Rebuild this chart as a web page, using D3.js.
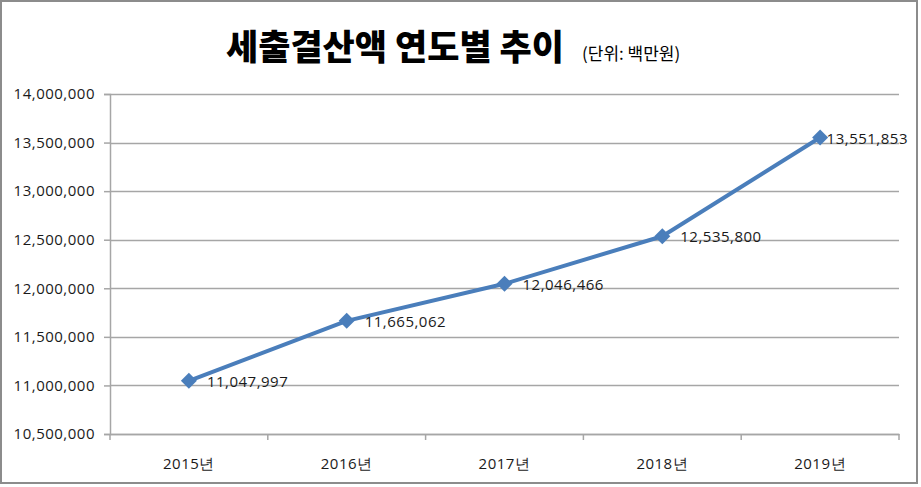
<!DOCTYPE html>
<html><head><meta charset="utf-8">
<script src="https://cdn.jsdelivr.net/npm/d3@7"></script>
<style>body{margin:0;background:#fff}svg{display:block}</style>
</head><body>
<script>
const years = ["2015년","2016년","2017년","2018년","2019년"];
const values = [11047997, 11665062, 12046466, 12535800, 13551853];
const yTicks = [10500000, 11000000, 11500000, 12000000, 12500000, 13000000, 13500000, 14000000];
const title = "세출결산액 연도별 추이";
const unit = "(단위: 백만원)";

const W = 921, H = 487;
const m = {left:110, right:22, top:94, bottom:53};
const svg = d3.select("body").append("svg").attr("width", W).attr("height", H);
svg.append("rect").attr("x",1).attr("y",1).attr("width",916).attr("height",482)
  .attr("fill","#fff").attr("stroke","#8c8c8c").attr("stroke-width",2);

const x = d3.scaleBand().domain(years).range([m.left, W - m.right]);
const y = d3.scaleLinear().domain([10500000, 14000000]).range([H - m.bottom, m.top]);
const fmt = d3.format(",");
const numFont = "'Open Sans', sans-serif";

// gridlines
svg.append("g").selectAll("line").data(yTicks).join("line")
  .attr("x1", m.left).attr("x2", W - m.right)
  .attr("y1", d => Math.round(y(d)) + 0.5).attr("y2", d => Math.round(y(d)) + 0.5)
  .attr("stroke", "#a6a6a6").attr("stroke-width", 1.5);

// y axis
const ya = svg.append("g").attr("transform", `translate(${m.left},0)`)
  .call(d3.axisLeft(y).tickValues(yTicks).tickFormat(fmt).tickSize(6).tickPadding(9));
ya.select(".domain").attr("stroke", "#a6a6a6").attr("stroke-width", 1.5);
ya.selectAll(".tick line").attr("stroke", "#a6a6a6").attr("stroke-width", 1.5);
ya.selectAll("text").attr("font-family", numFont).attr("font-size", 15)
  .attr("letter-spacing", 0.5).attr("fill", "#1a1a1a");

// x axis
const xa = svg.append("g").attr("transform", `translate(0,${H - m.bottom})`)
  .call(d3.axisBottom(x).tickSize(0).tickPadding(24));
xa.select(".domain").attr("stroke", "#a6a6a6").attr("stroke-width", 1.5);
xa.selectAll("text").attr("font-family", numFont).attr("font-size", 15)
  .attr("letter-spacing", 0.5).attr("fill", "#1a1a1a");
// category boundary ticks
const bounds = years.map(d => x(d)).concat([x(years[years.length-1]) + x.bandwidth()]);
svg.append("g").selectAll("line").data(bounds).join("line")
  .attr("x1", d => d).attr("x2", d => d)
  .attr("y1", H - m.bottom).attr("y2", H - m.bottom + 6)
  .attr("stroke", "#a6a6a6").attr("stroke-width", 1.5);

// line
const cx = d => x(d) + x.bandwidth() / 2;
const line = d3.line().x((d, i) => cx(years[i])).y(d => y(d));
svg.append("path").datum(values).attr("d", line)
  .attr("fill", "none").attr("stroke", "#4a7ebb").attr("stroke-width", 4).attr("stroke-linejoin", "round");

// markers
svg.append("g").selectAll("path").data(values).join("path")
  .attr("transform", (d, i) => `translate(${cx(years[i])},${y(d)})`)
  .attr("d", "M0,-8L8,0L0,8L-8,0Z").attr("fill", "#4a7ebb");

// labels (kept inside the chart border, as the original does for the last point)
const maxRight = W - m.right + 9;
svg.append("g").selectAll("text").data(values).join("text")
  .attr("x", (d, i) => cx(years[i]) + 18).attr("y", d => y(d) + 6)
  .attr("font-family", numFont).attr("font-size", 15).attr("letter-spacing", 0.5)
  .attr("fill", "#1a1a1a")
  .text(d => fmt(d))
  .each(function() {
    const t = d3.select(this);
    const w = this.getComputedTextLength();
    const x0 = +t.attr("x");
    if (x0 + w > maxRight) t.attr("x", maxRight - w);
  });

// title
svg.append("text").attr("x", 395).attr("y", 60).attr("text-anchor", "middle")
  .attr("font-family", "'Noto Sans CJK KR', sans-serif").attr("font-weight", 900)
  .attr("font-size", 35).attr("fill", "#000").text(title);
svg.append("text").attr("x", 582).attr("y", 60)
  .attr("font-family", "'Noto Sans CJK KR', sans-serif")
  .attr("font-size", 17).attr("fill", "#000").text(unit);
</script>
</body></html>
